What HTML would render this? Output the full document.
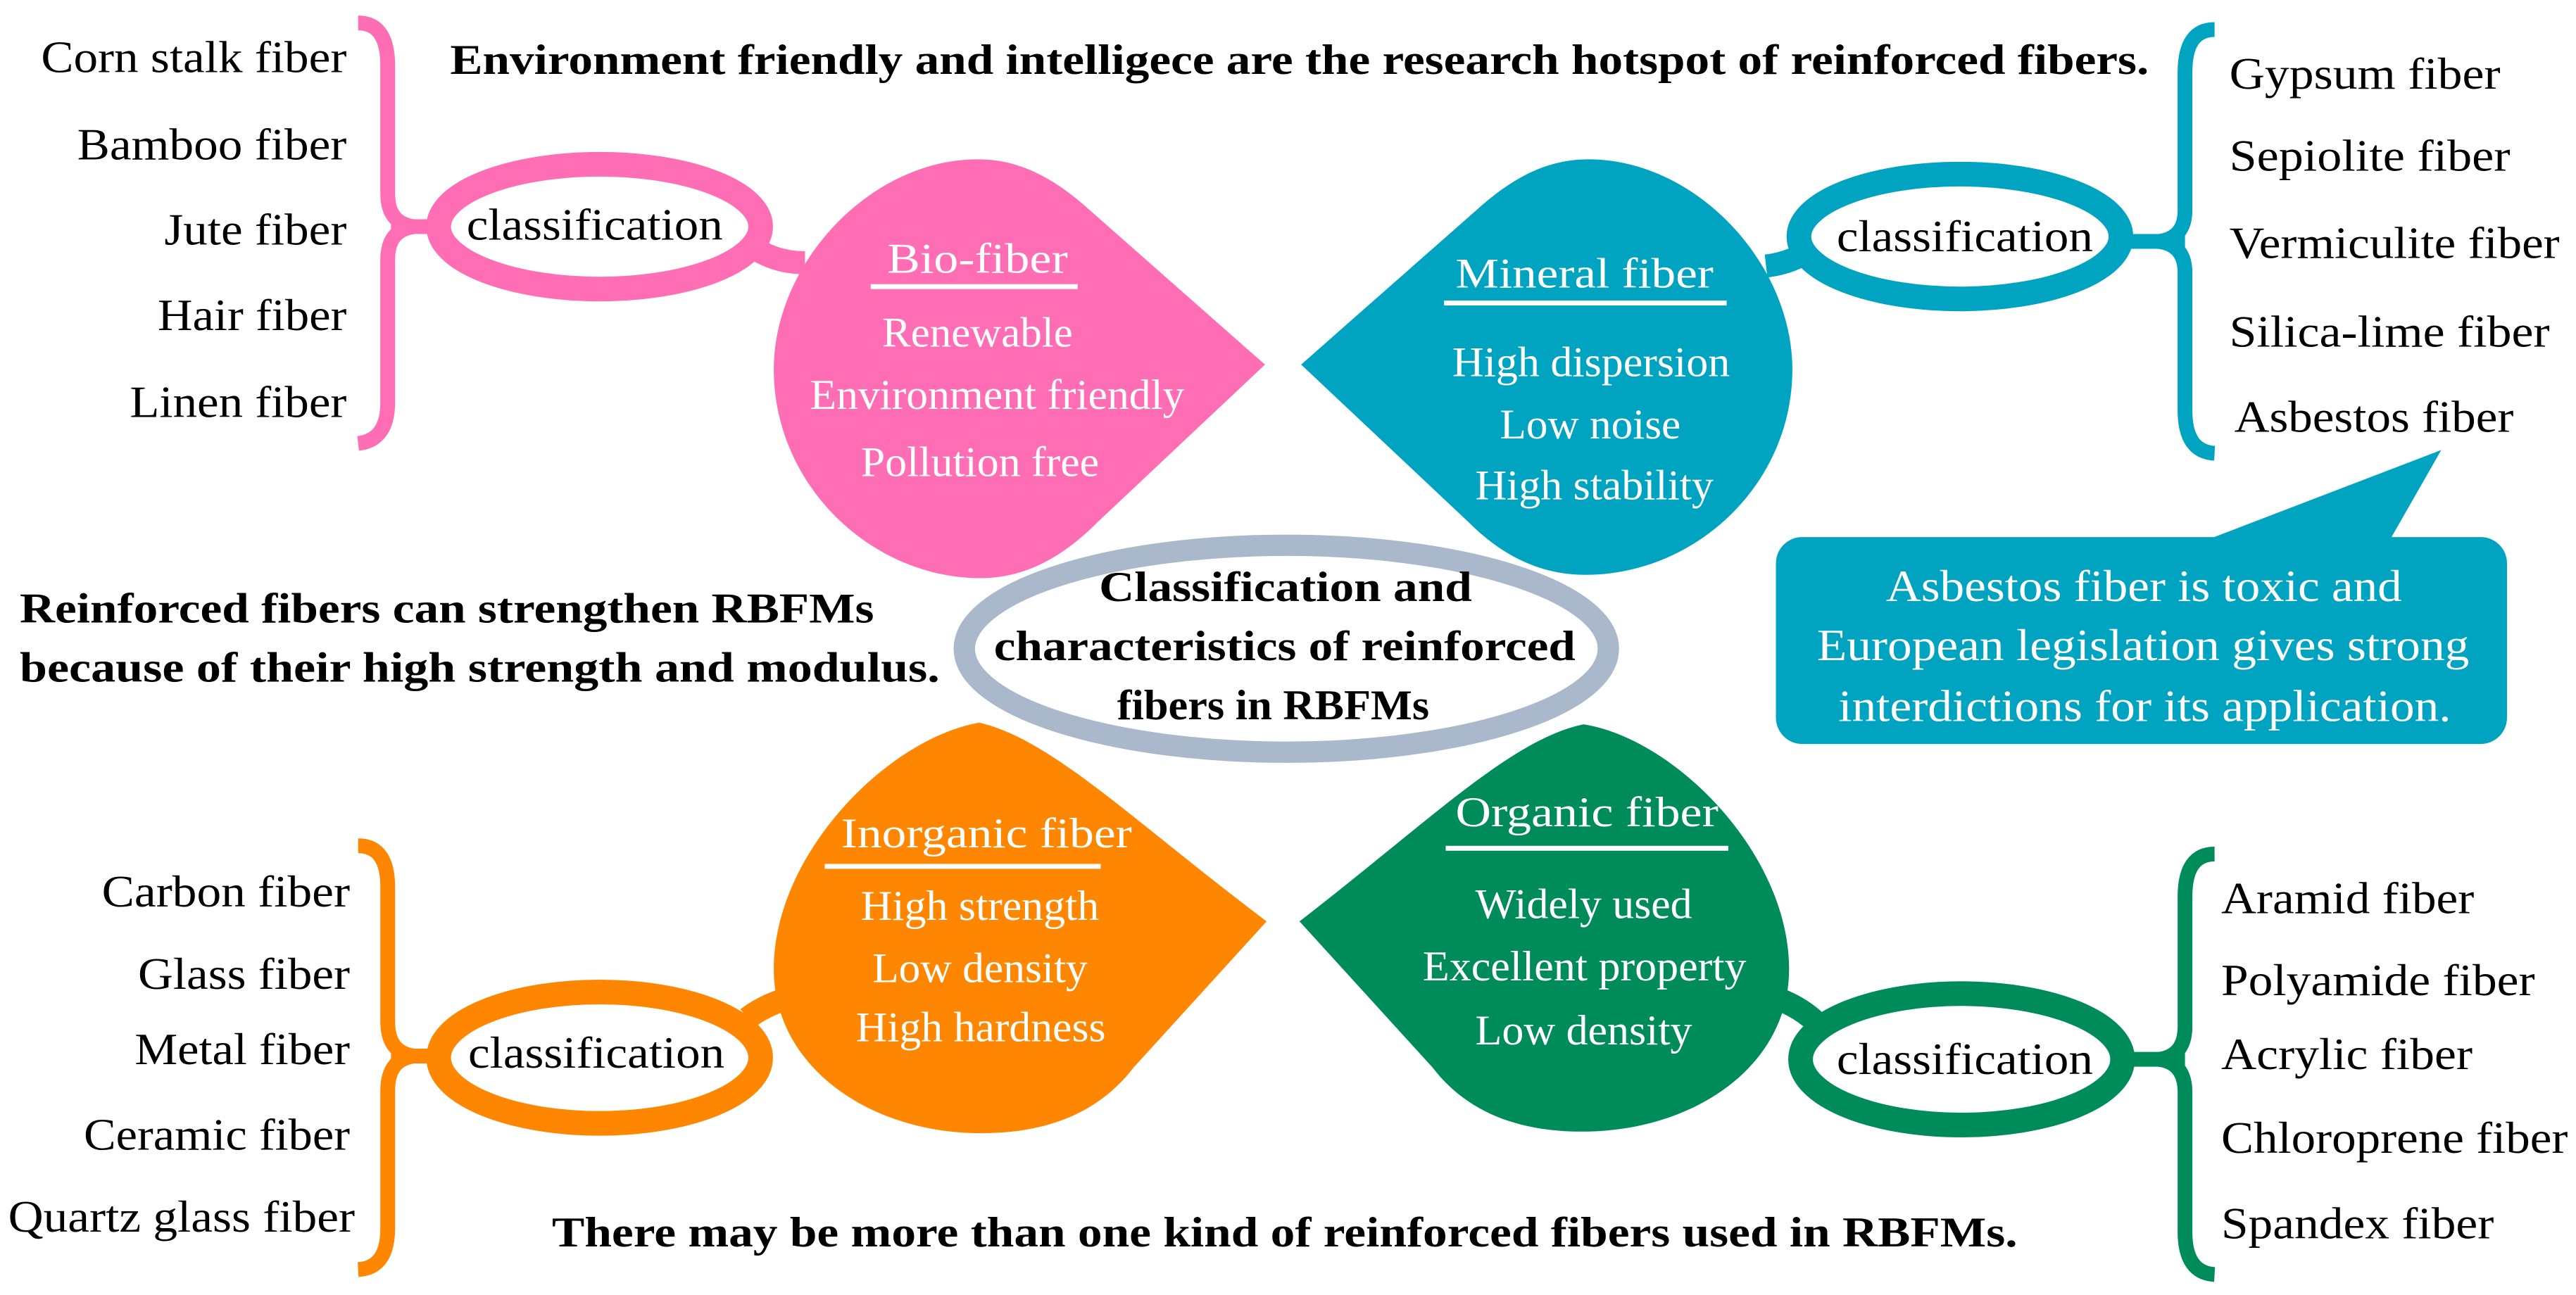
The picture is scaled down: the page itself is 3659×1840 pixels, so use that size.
<!DOCTYPE html>
<html><head><meta charset="utf-8"><style>
html,body{margin:0;padding:0;background:#fff;}
svg{display:block;}
text{font-family:"Liberation Serif","Times New Roman",serif;}
</style></head><body>
<svg width="3659" height="1840" viewBox="0 0 1568 788.5" preserveAspectRatio="none" xmlns="http://www.w3.org/2000/svg" font-family="Liberation Serif, serif">
<ellipse cx="783" cy="395" rx="196" ry="63" fill="none" stroke="#a9b8cb" stroke-width="13"/>

<path d="M770,222 L660,125 C638,106 618,97 595,97 C530,97 471,160 471,225 C471,295 530,352 597,352 C627,352 650,336 668,318 Z" fill="#ff6eb4"/>
<path d="M792,222 L902,125 C924,106 944,97 967,97 C1032,97 1091,160 1091,225 C1091,295 1032,350 965,350 C935,350 912,336 894,318 Z" fill="#00a3c0"/>
<path d="M596,440 C640,450 690,500 771,561 L690,650 C670,676 640,690 597,690 C530,690 471,650 471,590 C471,520 540,450 596,440 Z" fill="#ff8600"/>
<path d="M964,441 C920,450 870,500 791,561 L872,650 C892,676 922,689 963,689 C1030,689 1089,650 1089,590 C1089,520 1020,450 964,441 Z" fill="#008c5a"/>

<path d="M455,148 Q470,160 490,160" stroke="#ff6eb4" stroke-width="14" fill="none"/>
<ellipse cx="365" cy="138" rx="98" ry="38" fill="#fff" stroke="#ff6eb4" stroke-width="15"/>
<line x1="238" y1="138" x2="262" y2="138" stroke="#ff6eb4" stroke-width="9"/>
<path d="M218,14 Q236,14 236,40 L236,118 Q236,136 252,138 Q236,140 236,158 L236,245 Q236,268 218,270" stroke="#ff6eb4" stroke-width="9" fill="none"/>

<path d="M1105,150 Q1092,160 1075,162" stroke="#00a3c0" stroke-width="14" fill="none"/>
<ellipse cx="1193" cy="144" rx="98" ry="38" fill="#fff" stroke="#00a3c0" stroke-width="15"/>
<line x1="1290" y1="147" x2="1330" y2="147" stroke="#00a3c0" stroke-width="9"/>
<path d="M1348,18 Q1330,18 1330,44 L1330,128 Q1330,145 1314,147 Q1330,149 1330,166 L1330,250 Q1330,275 1348,276" stroke="#00a3c0" stroke-width="9" fill="none"/>

<path d="M455,620 Q468,610 490,605" stroke="#ff8600" stroke-width="14" fill="none"/>
<ellipse cx="365" cy="644" rx="98" ry="40" fill="#fff" stroke="#ff8600" stroke-width="15"/>
<line x1="238" y1="643" x2="262" y2="643" stroke="#ff8600" stroke-width="9"/>
<path d="M218,515 Q236,515 236,540 L236,622 Q236,641 252,643 Q236,645 236,664 L236,748 Q236,772 218,773" stroke="#ff8600" stroke-width="9" fill="none"/>

<path d="M1105,622 Q1092,610 1072,605" stroke="#008c5a" stroke-width="14" fill="none"/>
<ellipse cx="1194" cy="645" rx="98" ry="40" fill="#fff" stroke="#008c5a" stroke-width="15"/>
<line x1="1290" y1="645" x2="1330" y2="645" stroke="#008c5a" stroke-width="9"/>
<path d="M1348,520 Q1330,520 1330,546 L1330,625 Q1330,643 1314,645 Q1330,647 1330,665 L1330,750 Q1330,775 1348,776" stroke="#008c5a" stroke-width="9" fill="none"/>

<rect x="1081" y="327" width="445" height="126" rx="16" fill="#00a3c0"/>
<polygon points="1340,330 1486,274 1454,330" fill="#00a3c0"/>

<g font-size="27" fill="#000" lengthAdjust="spacingAndGlyphs">
<text x="25" y="44" textLength="186" lengthAdjust="spacingAndGlyphs">Corn stalk fiber</text>
<text x="47" y="97" textLength="164" lengthAdjust="spacingAndGlyphs">Bamboo fiber</text>
<text x="100" y="149" textLength="111" lengthAdjust="spacingAndGlyphs">Jute fiber</text>
<text x="96" y="201" textLength="115" lengthAdjust="spacingAndGlyphs">Hair fiber</text>
<text x="79" y="254" textLength="132" lengthAdjust="spacingAndGlyphs">Linen fiber</text>
<text x="1357" y="54" textLength="165" lengthAdjust="spacingAndGlyphs">Gypsum fiber</text>
<text x="1357" y="104" textLength="171" lengthAdjust="spacingAndGlyphs">Sepiolite fiber</text>
<text x="1357" y="157" textLength="201" lengthAdjust="spacingAndGlyphs">Vermiculite fiber</text>
<text x="1357" y="211" textLength="195" lengthAdjust="spacingAndGlyphs">Silica-lime fiber</text>
<text x="1360" y="263" textLength="170" lengthAdjust="spacingAndGlyphs">Asbestos fiber</text>
<text x="62" y="552" textLength="151" lengthAdjust="spacingAndGlyphs">Carbon fiber</text>
<text x="84" y="602" textLength="129" lengthAdjust="spacingAndGlyphs">Glass fiber</text>
<text x="82" y="648" textLength="131" lengthAdjust="spacingAndGlyphs">Metal fiber</text>
<text x="51" y="700" textLength="162" lengthAdjust="spacingAndGlyphs">Ceramic fiber</text>
<text x="5" y="750" textLength="211" lengthAdjust="spacingAndGlyphs">Quartz glass fiber</text>
<text x="1352" y="556" textLength="154" lengthAdjust="spacingAndGlyphs">Aramid fiber</text>
<text x="1352" y="606" textLength="191" lengthAdjust="spacingAndGlyphs">Polyamide fiber</text>
<text x="1352" y="651" textLength="153" lengthAdjust="spacingAndGlyphs">Acrylic fiber</text>
<text x="1352" y="702" textLength="211" lengthAdjust="spacingAndGlyphs">Chloroprene fiber</text>
<text x="1352" y="754" textLength="166" lengthAdjust="spacingAndGlyphs">Spandex fiber</text>
<text x="284" y="146" textLength="156" lengthAdjust="spacingAndGlyphs">classification</text>
<text x="1118" y="153" textLength="156" lengthAdjust="spacingAndGlyphs">classification</text>
<text x="285" y="650" textLength="156" lengthAdjust="spacingAndGlyphs">classification</text>
<text x="1118" y="654" textLength="156" lengthAdjust="spacingAndGlyphs">classification</text>
</g>
<g font-size="26" fill="#fff">
<text x="540" y="166" textLength="110" lengthAdjust="spacingAndGlyphs">Bio-fiber</text>
<text x="537" y="211" textLength="116" lengthAdjust="spacingAndGlyphs">Renewable</text>
<text x="493" y="249" textLength="228" lengthAdjust="spacingAndGlyphs">Environment friendly</text>
<text x="524" y="290" textLength="145" lengthAdjust="spacingAndGlyphs">Pollution free</text>
<text x="886" y="175" textLength="157" lengthAdjust="spacingAndGlyphs">Mineral fiber</text>
<text x="884" y="229" textLength="169" lengthAdjust="spacingAndGlyphs">High dispersion</text>
<text x="913" y="267" textLength="110" lengthAdjust="spacingAndGlyphs">Low noise</text>
<text x="898" y="304" textLength="145" lengthAdjust="spacingAndGlyphs">High stability</text>
<text x="512" y="516" textLength="177" lengthAdjust="spacingAndGlyphs">Inorganic fiber</text>
<text x="524" y="560" textLength="145" lengthAdjust="spacingAndGlyphs">High strength</text>
<text x="531" y="598" textLength="131" lengthAdjust="spacingAndGlyphs">Low density</text>
<text x="521" y="634" textLength="152" lengthAdjust="spacingAndGlyphs">High hardness</text>
<text x="886" y="503" textLength="160" lengthAdjust="spacingAndGlyphs">Organic fiber</text>
<text x="898" y="559" textLength="132" lengthAdjust="spacingAndGlyphs">Widely used</text>
<text x="866" y="597" textLength="197" lengthAdjust="spacingAndGlyphs">Excellent property</text>
<text x="898" y="636" textLength="132" lengthAdjust="spacingAndGlyphs">Low density</text>
<text x="1148" y="366" font-size="27" textLength="314" lengthAdjust="spacingAndGlyphs">Asbestos fiber is toxic and</text>
<text x="1106" y="402" font-size="27" textLength="397" lengthAdjust="spacingAndGlyphs">European legislation gives strong</text>
<text x="1119" y="439" font-size="27" textLength="373" lengthAdjust="spacingAndGlyphs">interdictions for its application.</text>
</g>
<g fill="#fff">
<rect x="530" y="173" width="126" height="3"/>
<rect x="879" y="183" width="172" height="3"/>
<rect x="502" y="526" width="168" height="3"/>
<rect x="880" y="515" width="172" height="3"/>
</g>
<g font-size="26" font-weight="bold" fill="#000">
<text x="274" y="45" textLength="1034" lengthAdjust="spacingAndGlyphs">Environment friendly and intelligece are the research hotspot of reinforced fibers.</text>
<text x="12" y="379" textLength="520" lengthAdjust="spacingAndGlyphs">Reinforced fibers can strengthen RBFMs</text>
<text x="12" y="415" textLength="560" lengthAdjust="spacingAndGlyphs">because of their high strength and modulus.</text>
<text x="336" y="759" textLength="892" lengthAdjust="spacingAndGlyphs">There may be more than one kind of reinforced fibers used in RBFMs.</text>
<text x="669" y="366" textLength="227" lengthAdjust="spacingAndGlyphs">Classification and</text>
<text x="605" y="402" textLength="354" lengthAdjust="spacingAndGlyphs">characteristics of reinforced</text>
<text x="680" y="438" textLength="190" lengthAdjust="spacingAndGlyphs">fibers in RBFMs</text>
</g>
</svg>
</body></html>
